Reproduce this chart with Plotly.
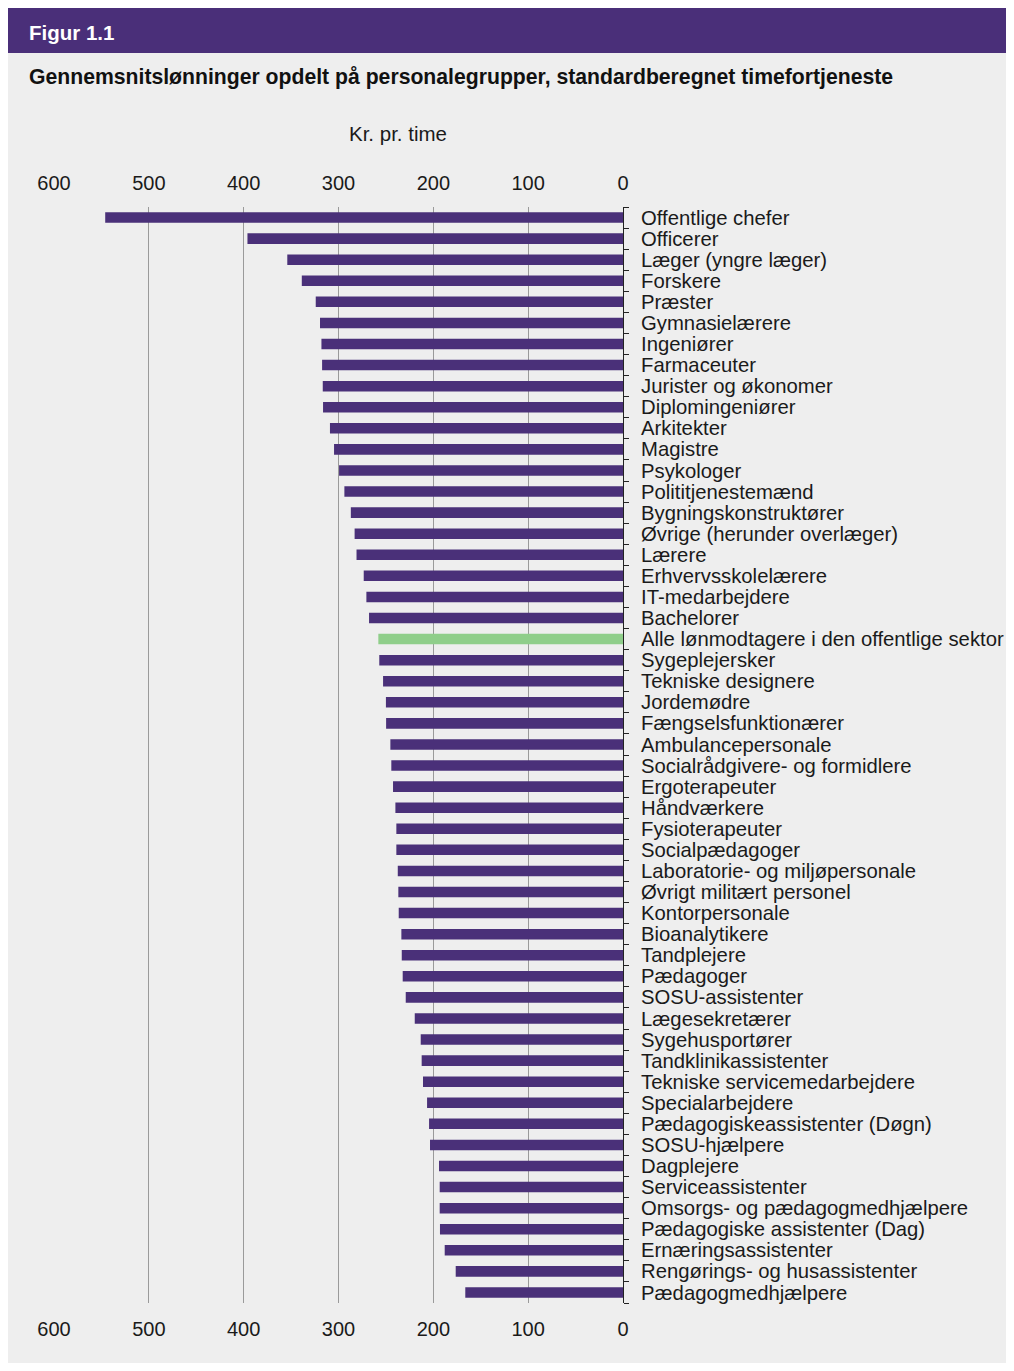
import plotly.graph_objects as go

categories = [
    "Offentlige chefer", "Officerer", "Læger (yngre læger)", "Forskere", "Præster",
    "Gymnasielærere", "Ingeniører", "Farmaceuter", "Jurister og økonomer",
    "Diplomingeniører", "Arkitekter", "Magistre", "Psykologer", "Polititjenestemænd",
    "Bygningskonstruktører", "Øvrige (herunder overlæger)", "Lærere",
    "Erhvervsskolelærere", "IT-medarbejdere", "Bachelorer",
    "Alle lønmodtagere i den offentlige sektor", "Sygeplejersker",
    "Tekniske designere", "Jordemødre", "Fængselsfunktionærer",
    "Ambulancepersonale", "Socialrådgivere- og formidlere", "Ergoterapeuter",
    "Håndværkere", "Fysioterapeuter", "Socialpædagoger",
    "Laboratorie- og miljøpersonale", "Øvrigt militært personel",
    "Kontorpersonale", "Bioanalytikere", "Tandplejere", "Pædagoger",
    "SOSU-assistenter", "Lægesekretærer", "Sygehusportører",
    "Tandklinikassistenter", "Tekniske servicemedarbejdere", "Specialarbejdere",
    "Pædagogiskeassistenter (Døgn)", "SOSU-hjælpere", "Dagplejere",
    "Serviceassistenter", "Omsorgs- og pædagogmedhjælpere",
    "Pædagogiske assistenter (Dag)", "Ernæringsassistenter",
    "Rengørings- og husassistenter", "Pædagogmedhjælpere",
]
values = [
    546, 396, 354, 338.7, 324,
    319.5, 318, 317.3, 316.6,
    316.3, 309, 304.7, 299.4, 293.8,
    287, 283, 281,
    273.4, 270.6, 267.8,
    258, 257,
    253, 250, 249.8,
    245.3, 244.3, 242.5,
    240, 239, 239,
    237.5, 236.9,
    236.5, 233.7, 233.3, 232.3,
    229.1, 219.6, 213.3,
    212.3, 210.9, 206.6,
    204.5, 203.5, 194,
    193.3, 193.3,
    193, 188,
    176.4, 166.3,
]
highlight = "Alle lønmodtagere i den offentlige sektor"
x_ticks = [0, 100, 200, 300, 400, 500, 600]

PURPLE = "#4a3079"
GREEN = "#8fce8a"
BG = "#eeeeee"
FONT = "Liberation Sans, Arial, sans-serif"
NARROW = "Liberation Sans Narrow, Arial Narrow, Liberation Sans, sans-serif"

W, H = 1014, 1355
L, R, T, B = 46, 399, 199, 60
PW, PH = W - L - R, H - T - B


def xp(px):
    return (px - L) / PW


def yp(py):
    return (H - B - py) / PH


colors = [GREEN if c == highlight else PURPLE for c in categories]
n = len(categories)

fig = go.Figure()
fig.add_trace(go.Bar(
    x=values, y=categories, orientation="h",
    marker=dict(color=colors, line=dict(width=0)),
    width=0.5, showlegend=False, hoverinfo="x+y",
))
fig.add_trace(go.Scatter(
    x=[0], y=[categories[0]], xaxis="x2", yaxis="y",
    mode="markers", marker=dict(opacity=0), showlegend=False, hoverinfo="skip",
))

axis_common = dict(
    range=[600, 0], tickvals=x_ticks, ticktext=[str(v) for v in x_ticks],
    tickfont=dict(family=NARROW, size=20, color="#1a1a1a"),
    ticks="outside", ticklen=8, tickcolor="rgba(0,0,0,0)",
    zeroline=False, showline=False, fixedrange=True,
)

fig.update_layout(
    width=W, height=H,
    margin=dict(l=L, r=R, t=T, b=B, pad=0),
    paper_bgcolor=BG, plot_bgcolor=BG,
    font=dict(family=FONT, color="#1a1a1a"),
    bargap=0.5,
    xaxis=dict(side="top", showgrid=True, gridcolor="#9a9a9a", gridwidth=1, **axis_common),
    xaxis2=dict(side="bottom", overlaying="x", matches="x", showgrid=False, **axis_common),
    yaxis=dict(
        type="category", categoryorder="array", categoryarray=categories,
        range=[n - 0.5, -0.5], side="right",
        tickmode="array", tickvals=categories, ticktext=categories,
        showline=True, linecolor="#222222", linewidth=1,
        ticks="outside", ticklen=5, tickcolor="#222222", tickson="boundaries",
        ticklabelstandoff=13,
        tickfont=dict(family=FONT, size=20.3, color="#1a1a1a"),
        showgrid=False, zeroline=False, fixedrange=True,
    ),
    shapes=[
        dict(type="rect", xref="paper", yref="paper",
             x0=xp(0), x1=xp(W + 20), y0=yp(45), y1=yp(0),
             fillcolor="#4a2f79", line=dict(width=0), layer="below"),
    ],
    annotations=[
        dict(text="<b>Figur 1.1</b>", xref="paper", yref="paper",
             x=xp(19), y=yp(24), xanchor="left", yanchor="middle",
             showarrow=False, font=dict(family=FONT, size=20.5, color="white")),
        dict(text="<b>Gennemsnitslønninger opdelt på personalegrupper, standardberegnet timefortjeneste</b>",
             xref="paper", yref="paper", x=xp(19), y=yp(69),
             xanchor="left", yanchor="middle", showarrow=False,
             font=dict(family=FONT, size=21.2, color="#111111")),
        dict(text="Kr. pr. time", xref="paper", yref="paper",
             x=xp(390), y=yp(126), xanchor="center", yanchor="middle",
             showarrow=False, font=dict(family=FONT, size=20.5, color="#1a1a1a")),
    ],
)

fig.write_html("out.html")
